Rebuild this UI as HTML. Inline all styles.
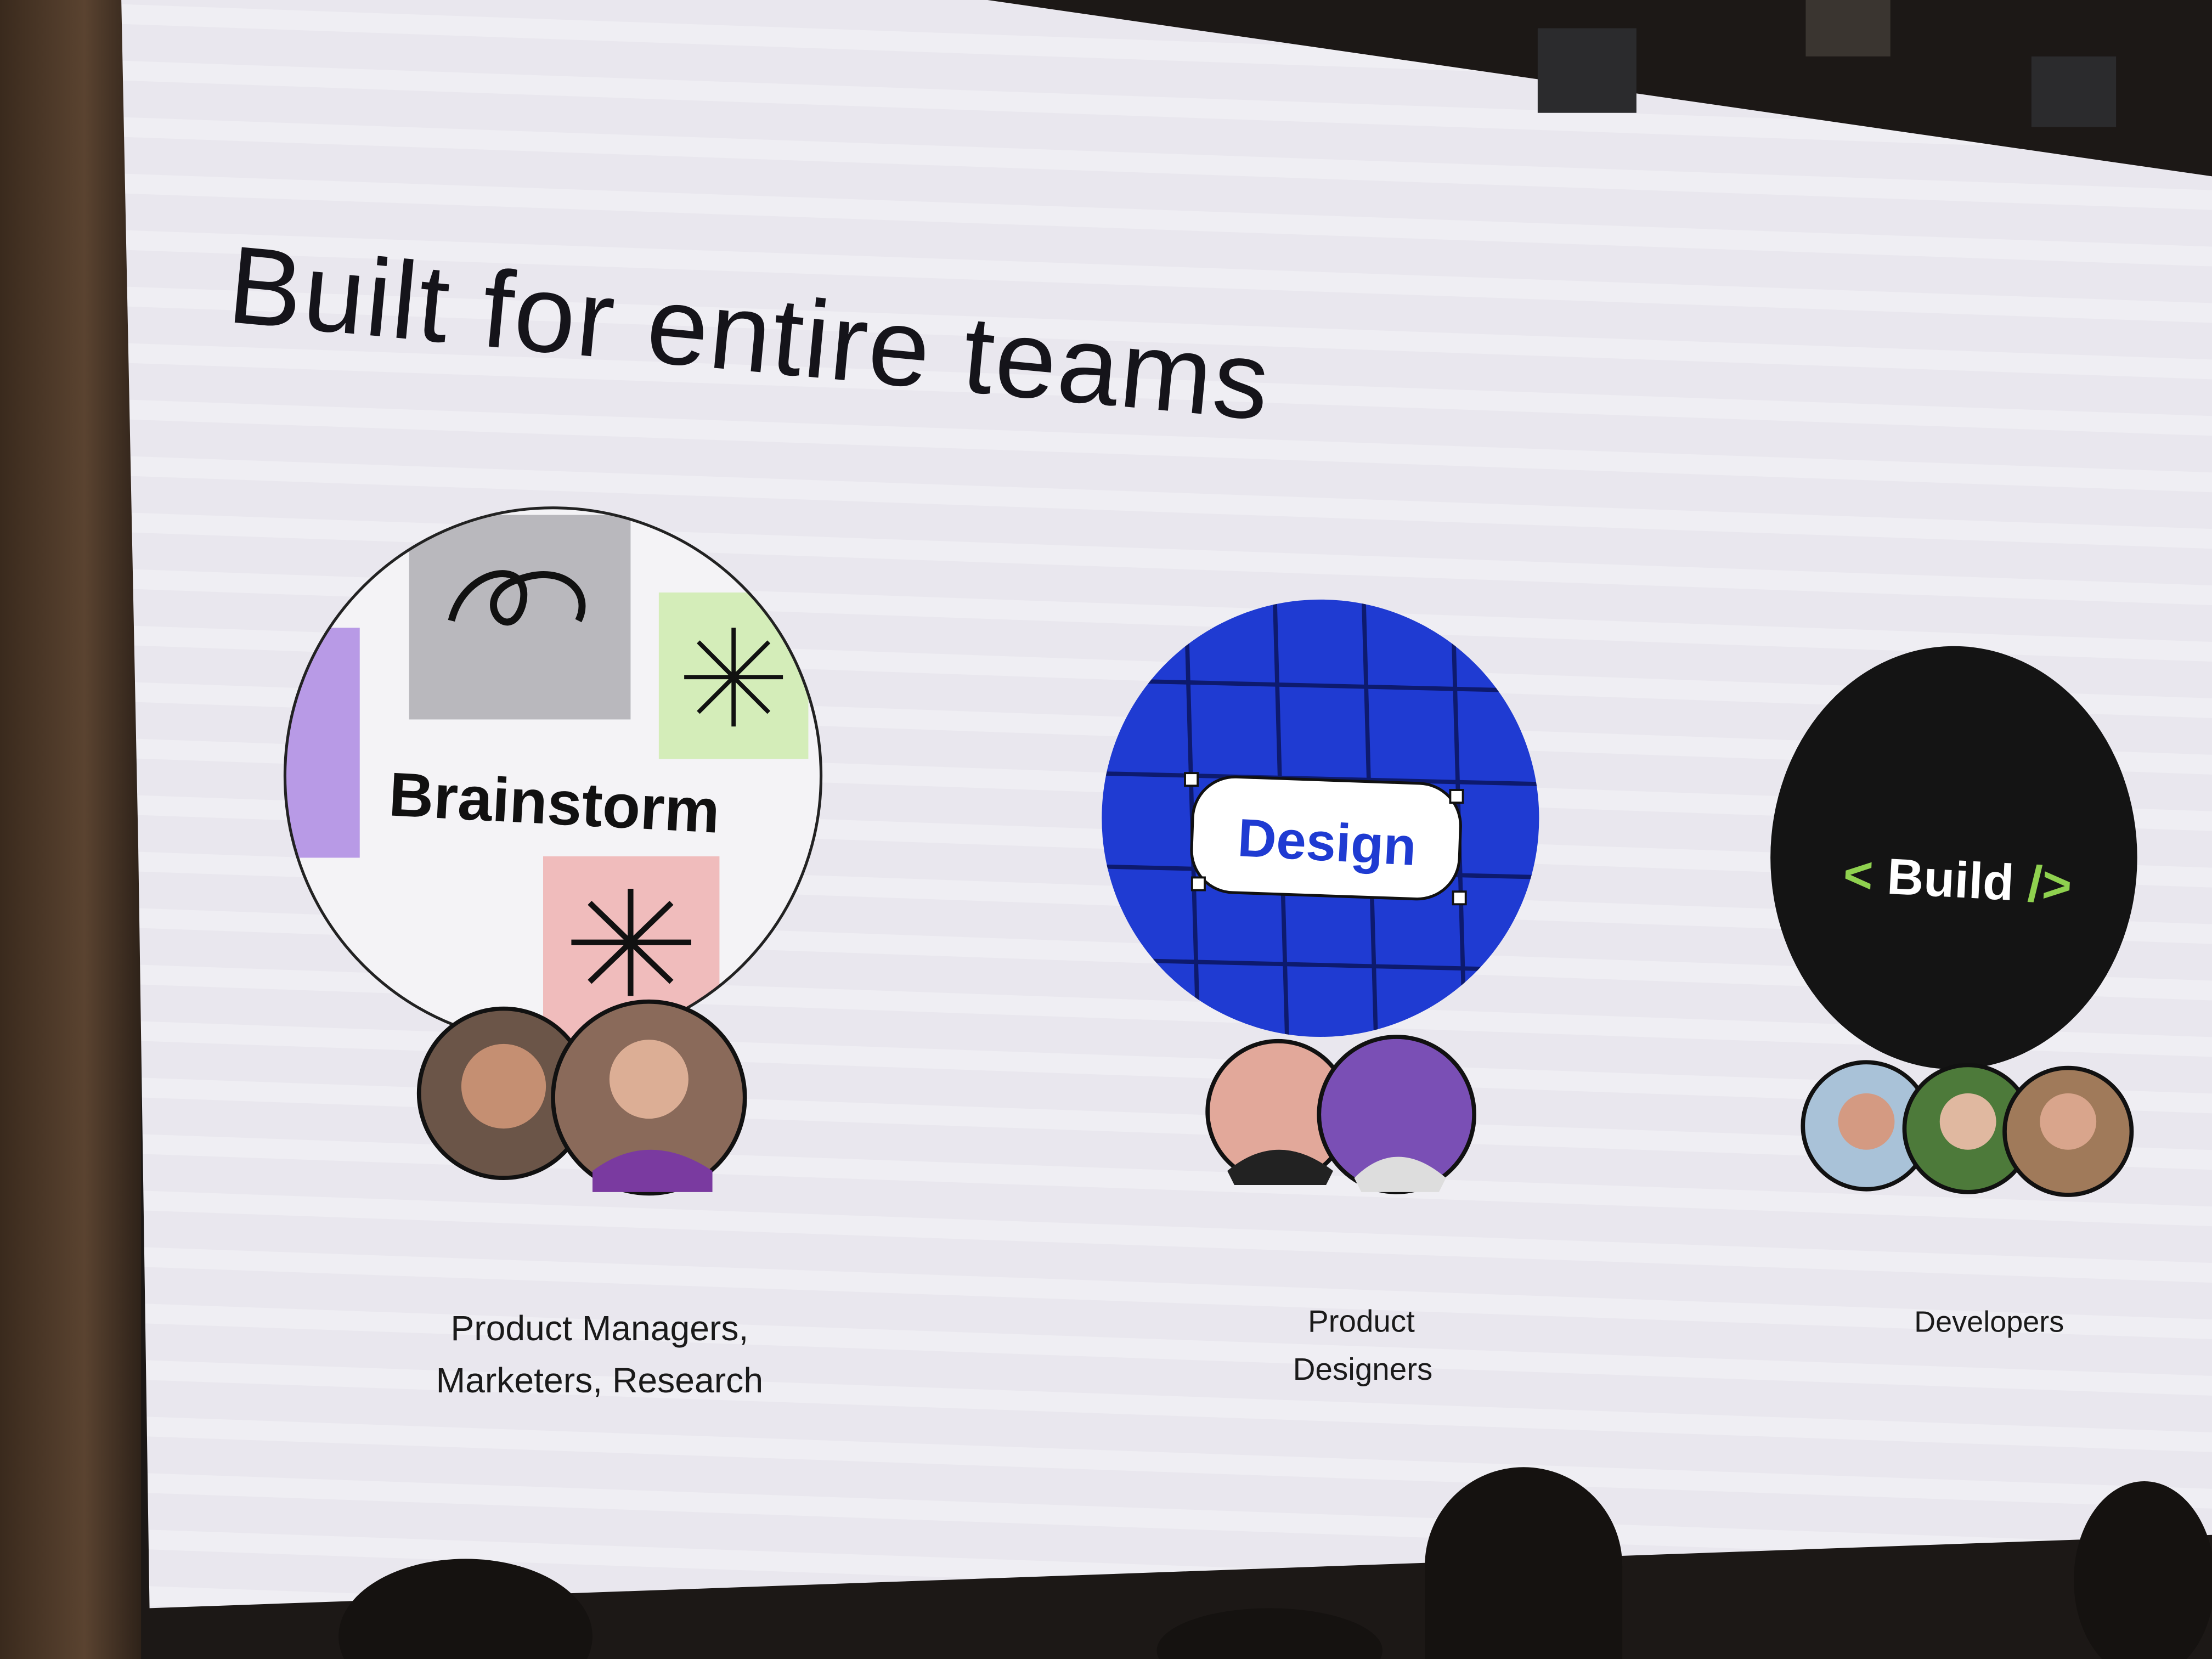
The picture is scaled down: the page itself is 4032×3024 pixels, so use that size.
<!DOCTYPE html>
<html><head><meta charset="utf-8"><style>html,body{margin:0;padding:0;background:#1e1a17;}svg{display:block}</style></head>
<body>
<svg width="4032" height="3024" viewBox="0 0 1568 1176" xmlns="http://www.w3.org/2000/svg">
<defs>
<pattern id="st" width="40" height="40" patternUnits="userSpaceOnUse" patternTransform="rotate(2)">
<rect width="40" height="40" fill="#e9e7ee"/><rect y="0" width="40" height="14" fill="#efeef3"/>
</pattern>
<clipPath id="c1"><circle cx="392" cy="550" r="190"/></clipPath>
<clipPath id="c2"><circle cx="936" cy="580" r="155"/></clipPath>
<linearGradient id="wood" x1="0" x2="1"><stop offset="0" stop-color="#3a2a1d"/><stop offset="0.6" stop-color="#5a4330"/><stop offset="1" stop-color="#2e2219"/></linearGradient>
</defs>
<rect width="1568" height="1176" fill="#1c1816"/>
<rect x="0" y="0" width="100" height="1176" fill="url(#wood)"/>
<polygon points="86,0 700,0 1568,125 1568,1088 106,1140 98,600" fill="url(#st)"/>
<!-- top lights -->
<rect x="1090" y="20" width="70" height="60" fill="#2b2b2d"/>
<rect x="1280" y="0" width="60" height="40" fill="#3a3530"/>
<rect x="1440" y="40" width="60" height="50" fill="#2b2b2d"/>
<text x="160" y="228" font-family="Liberation Sans, sans-serif" font-size="78" textLength="740" lengthAdjust="spacing" fill="#15141a" transform="rotate(5.4 160 228)">Built for entire teams</text>
<!-- Brainstorm -->
<circle cx="392" cy="550" r="190" fill="#f4f3f6"/>
<g clip-path="url(#c1)">
<rect x="290" y="365" width="157" height="145" fill="#b9b8bd"/>
<rect x="467" y="420" width="106" height="118" fill="#d4edb9"/>
<rect x="200" y="445" width="55" height="163" fill="#b89ae6"/>
<rect x="385" y="607" width="125" height="130" fill="#f0bcbc"/>
</g>
<circle cx="392" cy="550" r="190" fill="none" stroke="#222" stroke-width="2"/>
<path d="M320 440 C330 400,380 395,370 430 C360 460,330 420,370 410 C400 400,420 420,410 440" fill="none" stroke="#111" stroke-width="5"/>
<g stroke="#111" stroke-width="3"><line x1="485" y1="480" x2="555" y2="480"/><line x1="520" y1="445" x2="520" y2="515"/><line x1="495" y1="455" x2="545" y2="505"/><line x1="545" y1="455" x2="495" y2="505"/></g>
<g stroke="#111" stroke-width="4"><line x1="405" y1="668" x2="490" y2="668"/><line x1="447" y1="630" x2="447" y2="706"/><line x1="418" y1="640" x2="476" y2="696"/><line x1="476" y1="640" x2="418" y2="696"/></g>
<text x="275" y="578" font-family="Liberation Sans, sans-serif" font-weight="bold" font-size="44" fill="#111" transform="rotate(3 275 578)">Brainstorm</text>
<circle cx="357" cy="775" r="60" fill="#6b5548" stroke="#111" stroke-width="3"/>
<circle cx="357" cy="770" r="30" fill="#c58f72"/>
<circle cx="460" cy="778" r="68" fill="#8a6a5a" stroke="#111" stroke-width="3"/>
<circle cx="460" cy="765" r="28" fill="#dcae95"/>
<path d="M420 830 Q460 800 505 830 L505 845 L420 845Z" fill="#7a3aa0"/>
<!-- Design -->
<circle cx="936" cy="580" r="155" fill="#1f3bd2"/>
<g clip-path="url(#c2)" stroke="#0d1a6e" stroke-width="3">
<line x1="840" y1="400" x2="850" y2="760"/><line x1="903" y1="400" x2="913" y2="760"/><line x1="966" y1="400" x2="976" y2="760"/><line x1="1029" y1="400" x2="1039" y2="760"/>
<line x1="770" y1="482" x2="1100" y2="490"/><line x1="770" y1="548" x2="1100" y2="556"/><line x1="770" y1="614" x2="1100" y2="622"/><line x1="770" y1="680" x2="1100" y2="688"/>
</g>
<rect x="845" y="553" width="190" height="82" rx="30" fill="#fff" stroke="#111" stroke-width="2" transform="rotate(2 940 594)"/>
<g fill="#fff" stroke="#111" stroke-width="1.5"><rect x="840" y="548" width="9" height="9"/><rect x="1028" y="560" width="9" height="9"/><rect x="845" y="622" width="9" height="9"/><rect x="1030" y="632" width="9" height="9"/></g>
<text x="940" y="610" text-anchor="middle" font-family="Liberation Sans, sans-serif" font-weight="bold" font-size="38" fill="#1f3bd2" transform="rotate(3 940 610)">Design</text>
<circle cx="906" cy="788" r="50" fill="#e2a89a" stroke="#111" stroke-width="3"/>
<path d="M870 830 Q906 800 945 830 L940 840 L875 840Z" fill="#222"/>
<circle cx="990" cy="790" r="55" fill="#7a4fb5" stroke="#111" stroke-width="3"/>
<path d="M960 835 Q990 805 1025 835 L1020 845 L965 845Z" fill="#ddd"/>
<!-- Build -->
<ellipse cx="1385" cy="608" rx="130" ry="150" fill="#141414"/>
<text x="1387" y="636" text-anchor="middle" font-family="Liberation Sans, sans-serif" font-weight="bold" font-size="36" fill="#fff" transform="rotate(3 1387 636)"><tspan fill="#8fd14f">&lt; </tspan>Build<tspan fill="#8fd14f"> /&gt;</tspan></text>
<circle cx="1323" cy="798" r="45" fill="#a9c2d8" stroke="#111" stroke-width="3"/>
<circle cx="1323" cy="795" r="20" fill="#d49a82"/>
<circle cx="1395" cy="800" r="45" fill="#4d7a3a" stroke="#111" stroke-width="3"/>
<circle cx="1395" cy="795" r="20" fill="#e0b8a0"/>
<circle cx="1466" cy="802" r="45" fill="#a07a5a" stroke="#111" stroke-width="3"/>
<circle cx="1466" cy="795" r="20" fill="#d9a58c"/>
<!-- labels -->
<g font-family="Liberation Sans, sans-serif" fill="#1a1a1a" text-anchor="middle">
<text x="425" y="950" font-size="25">Product Managers,</text>
<text x="425" y="987" font-size="25">Marketers, Research</text>
<text x="965" y="944" font-size="22">Product</text>
<text x="966" y="978" font-size="22">Designers</text>
<text x="1410" y="944" font-size="21">Developers</text>
</g>
<!-- audience heads -->
<g fill="#151210">
<ellipse cx="330" cy="1160" rx="90" ry="55"/>
<ellipse cx="1080" cy="1110" rx="70" ry="70"/>
<rect x="1010" y="1110" width="140" height="70"/>
<ellipse cx="1520" cy="1120" rx="50" ry="70"/>
<ellipse cx="900" cy="1170" rx="80" ry="30"/>
</g>
</svg>
</body></html>
